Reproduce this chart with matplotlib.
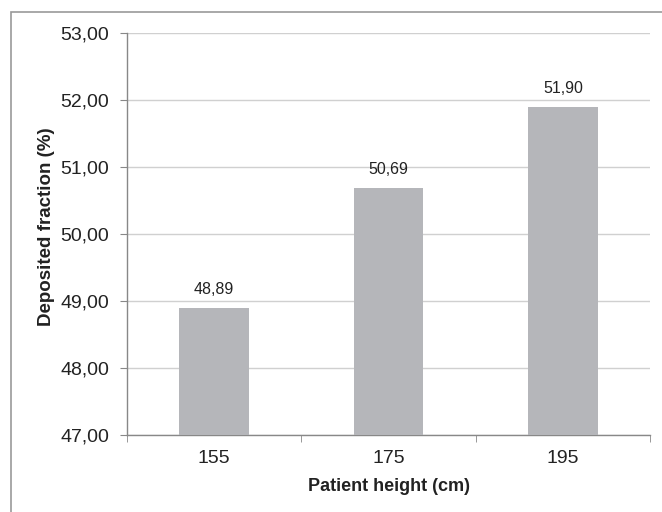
import matplotlib
matplotlib.use("Agg")
import matplotlib.pyplot as plt
from matplotlib.patches import Rectangle

categories = ["155", "175", "195"]
values = [48.89, 50.69, 51.90]
yticks = [47, 48, 49, 50, 51, 52, 53]

plt.rcParams['font.family'] = ['Liberation Sans', 'DejaVu Sans']

fig = plt.figure(figsize=(6.62, 5.12), dpi=100)
ax = fig.add_axes([127/662, 1-435/512, (650-127)/662, (435-33)/512])

x = list(range(len(categories)))
bars = ax.bar(x, values, width=0.4, color="#b5b6ba", zorder=3)
ax.set_ylim(47, 53)
ax.set_xlim(-0.5, len(categories) - 0.5)
ax.set_yticks(yticks)
ax.set_yticklabels([f"{v:.2f}".replace(".", ",") for v in yticks], fontsize=14, color="#222222")
ax.set_xticks(x)
ax.set_xticklabels(categories, fontsize=14, color="#222222")
ax.tick_params(axis="x", length=0, pad=11)
ax.set_xticks([i - 0.5 for i in range(len(categories) + 1)], minor=True)
ax.tick_params(axis="x", which="minor", length=5, color="#888888", direction="out")
ax.tick_params(axis="y", length=5, color="#888888", direction="out", pad=8)
ax.grid(axis="y", color="#d0d0d0", linewidth=1, zorder=0)
for s in ["top", "right"]:
    ax.spines[s].set_visible(False)
for s in ["left", "bottom"]:
    ax.spines[s].set_color("#888888")
    ax.spines[s].set_linewidth(1)

for xi, v in zip(x, values):
    ax.annotate(f"{v:.2f}".replace(".", ","), (xi, v), xytext=(0, 8), textcoords="offset points",
                ha="center", va="bottom", fontsize=11.5, color="#222222")

ax.set_ylabel("Deposited fraction (%)", fontsize=13.5, fontweight="bold", color="#222222",
              va="center")
ax.yaxis.set_label_coords(-0.153, 0.517)
ax.set_xlabel("Patient height (cm)", fontsize=13, fontweight="bold", color="#222222", va="center")
ax.xaxis.set_label_coords(0.5, -0.127)

fig.patches.append(Rectangle((11/662, -0.1), 1.2, 1 - 12/512 + 0.1, transform=fig.transFigure,
                             fill=False, edgecolor="#999999", linewidth=1.2))

fig.savefig("out.png", dpi=100)
